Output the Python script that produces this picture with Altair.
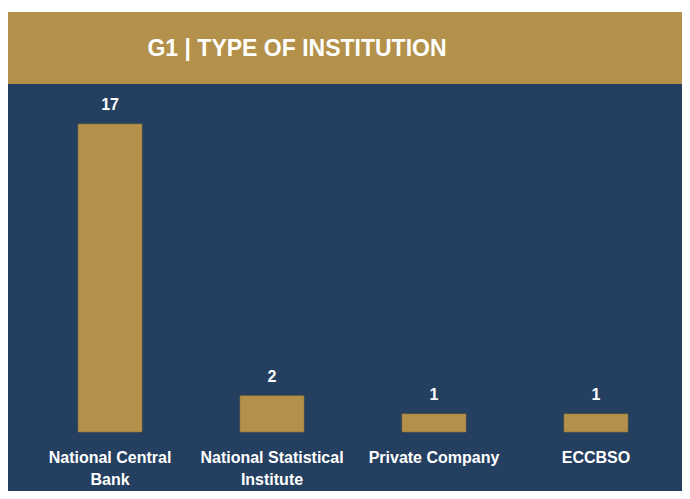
import altair as alt
import pandas as pd

categories = ["National Central Bank", "National Statistical Institute", "Private Company", "ECCBSO"]
counts = [17, 2, 1, 1]
label_lines = {
    "National Central Bank": "National Central\nBank",
    "National Statistical Institute": "National Statistical\nInstitute",
    "Private Company": "Private Company",
    "ECCBSO": "ECCBSO",
}
title_text = "G1 | TYPE OF INSTITUTION"

GOLD = "#B3914A"
NAVY = "#253F60"
FONT = "Liberation Sans"

df = pd.DataFrame({
    "category": categories,
    "count": counts,
    "label": [label_lines[c] for c in categories],
})

W = 674
px_per_unit = 308 / 17
above = 348
below = 59

banner = alt.Chart(pd.DataFrame({"t": [title_text]})).mark_text(
    font=FONT, fontWeight="bold", fontSize=23, color="white", align="center", baseline="middle"
).encode(
    text="t:N",
    x=alt.value(289),
    y=alt.value(37),
).properties(width=W, height=72, view=alt.ViewBackground(fill=GOLD, stroke=None))

x_enc = alt.X(
    "category:N",
    sort=categories,
    scale=alt.Scale(paddingInner=0.605, paddingOuter=0.383, align=0.5645),
    axis=None,
)
y_enc = alt.Y(
    "count:Q",
    scale=alt.Scale(domain=[-below / px_per_unit, above / px_per_unit], nice=False, zero=False),
    axis=None,
)

bars = alt.Chart(df).mark_bar(color=GOLD, stroke="#8f7438", strokeWidth=0.6).encode(
    x=x_enc, y=y_enc, y2=alt.datum(0)
)
values = alt.Chart(df).mark_text(
    font=FONT, fontWeight="bold", fontSize=16, color="white", baseline="alphabetic", dy=-14
).encode(x=x_enc, y=y_enc, text="count:Q")
cat_labels = alt.Chart(df).mark_text(
    font=FONT, fontWeight="bold", fontSize=16, color="white", baseline="top",
    lineBreak="\n", lineHeight=22, dy=18
).encode(x=x_enc, y=alt.datum(0), text="label:N")

main = alt.layer(bars, values, cat_labels).properties(
    width=W, height=above + below, view=alt.ViewBackground(fill=NAVY, stroke=None)
)

chart = alt.vconcat(banner, main, spacing=0).properties(
    background="white", padding={"top": 4, "left": 0, "right": 0, "bottom": 0}
)

chart.save("out.html", embed_options={"renderer": "svg", "actions": False})
